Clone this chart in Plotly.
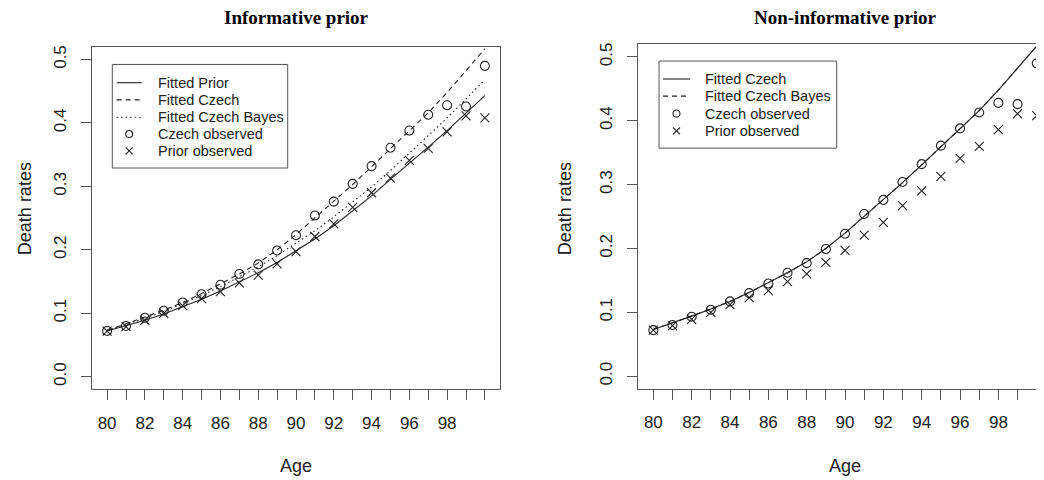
import plotly.graph_objects as go

# ---------------- data ----------------
ages = list(range(80, 101))
czech_observed = [0.072, 0.080, 0.093, 0.104, 0.117, 0.130, 0.145, 0.162, 0.177, 0.199, 0.223,
                  0.254, 0.276, 0.304, 0.332, 0.361, 0.388, 0.413, 0.428, 0.426, 0.490]
prior_observed = [0.072, 0.079, 0.089, 0.100, 0.112, 0.123, 0.134, 0.148, 0.160, 0.178, 0.197,
                  0.221, 0.241, 0.267, 0.290, 0.313, 0.341, 0.360, 0.386, 0.411, 0.408]
fitted_prior = [0.072, 0.080, 0.089, 0.099, 0.110, 0.122, 0.135, 0.149, 0.164, 0.180, 0.198,
                0.217, 0.238, 0.261, 0.285, 0.311, 0.336, 0.362, 0.388, 0.415, 0.443]
fitted_czech = [0.073, 0.083, 0.094, 0.105, 0.117, 0.131, 0.146, 0.162, 0.179, 0.200, 0.224,
                0.250, 0.276, 0.303, 0.331, 0.359, 0.387, 0.416, 0.448, 0.482, 0.517]
fitted_czech_bayes_inf = [0.073, 0.082, 0.092, 0.103, 0.115, 0.128, 0.142, 0.157, 0.173, 0.191, 0.210,
                          0.230, 0.252, 0.275, 0.299, 0.325, 0.352, 0.380, 0.408, 0.438, 0.468]
fitted_czech_bayes_noninf = [0.073, 0.083, 0.094, 0.105, 0.117, 0.131, 0.146, 0.162, 0.179, 0.200, 0.224,
                             0.250, 0.276, 0.303, 0.331, 0.359, 0.387, 0.416, 0.448, 0.482, 0.517]

x_tickvals = list(range(80, 101))
x_ticktext = [str(a) if (a % 2 == 0 and a < 100) else "" for a in x_tickvals]
y_tickvals = [0.0, 0.1, 0.2, 0.3, 0.4, 0.5]
y_ticktext = ["0.0", "0.1", "0.2", "0.3", "0.4", "0.5"]

titles = ["Informative prior", "Non-informative prior"]
legend_left = ["Fitted Prior", "Fitted Czech", "Fitted Czech Bayes", "Czech observed", "Prior observed"]
legend_right = ["Fitted Czech", "Fitted Czech Bayes", "Czech observed", "Prior observed"]

# ---------------- styling ----------------
# the page body has an 8px margin, so the figure starts at (8, 8) in the window
OFF = 8
W, H = 1044 - OFF, 480 - OFF
INK = "#222222"
AX = "#555555"
SANS = "Liberation Sans, Arial, Helvetica, sans-serif"
SERIF = "Liberation Serif, Times New Roman, serif"
DASH = "5px,4px"
DOT = "1.5px,3px"


def px(x):
    return (x - OFF) / W


def py(y):
    return 1 - (y - OFF) / H


fig = go.Figure()


def line_trace(y, dash, xa, ya):
    fig.add_trace(go.Scatter(x=ages, y=y, mode="lines", xaxis=xa, yaxis=ya,
                             line=dict(color=INK, width=1.1, dash=dash),
                             showlegend=False, hoverinfo="skip"))


def pts_trace(y, symbol, size, xa, ya):
    fig.add_trace(go.Scatter(x=ages, y=y, mode="markers", xaxis=xa, yaxis=ya,
                             marker=dict(symbol=symbol, size=size, color=INK,
                                         line=dict(color=INK, width=1.1)),
                             showlegend=False, hoverinfo="skip"))


# left panel
line_trace(fitted_prior, "solid", "x", "y")
line_trace(fitted_czech, DASH, "x", "y")
line_trace(fitted_czech_bayes_inf, DOT, "x", "y")
pts_trace(czech_observed, "circle-open", 9, "x", "y")
pts_trace(prior_observed, "x-thin-open", 9, "x", "y")

# right panel
line_trace(fitted_czech, "solid", "x2", "y2")
line_trace(fitted_czech_bayes_noninf, DASH, "x2", "y2")
pts_trace(czech_observed, "circle-open", 9, "x2", "y2")
pts_trace(prior_observed, "x-thin-open", 9, "x2", "y2")

common_x = dict(tickvals=x_tickvals, ticktext=x_ticktext, ticks="outside", ticklen=10,
                tickcolor=AX, tickwidth=1, showline=True, linecolor=AX, linewidth=1,
                showgrid=False, zeroline=False, tickfont=dict(family=SANS, size=17, color=INK),
                ticklabelstandoff=8)
common_y = dict(tickvals=y_tickvals, ticktext=y_ticktext, ticks="outside", ticklen=10,
                tickcolor=AX, tickwidth=1, showline=True, linecolor=AX, linewidth=1,
                showgrid=False, zeroline=False, tickangle=-90,
                tickfont=dict(family=SANS, size=17, color=INK), ticklabelstandoff=8)

fig.update_layout(
    width=W, height=H, margin=dict(l=0, r=0, t=0, b=0),
    paper_bgcolor="white", plot_bgcolor="white", showlegend=False,
    xaxis=dict(domain=[px(92), px(500)], range=[79.2, 100.8], anchor="y", mirror=True, **common_x),
    yaxis=dict(domain=[py(389), py(45)], range=[-0.02, 0.52], anchor="x", mirror=True, **common_y),
    xaxis2=dict(domain=[px(638), 1.0], range=[79.2, 100.38], anchor="y2", mirror=True, **common_x),
    yaxis2=dict(domain=[py(388.5), py(42.3)], range=[-0.02, 0.52], anchor="x2", mirror=False, **common_y),
)

ann = []
shapes = []
# titles
ann.append(dict(text="<b>" + titles[0] + "</b>", x=px(296), y=py(16), xref="paper", yref="paper",
                showarrow=False, font=dict(family=SERIF, size=19, color="black"), xanchor="center", yanchor="middle"))
ann.append(dict(text="<b>" + titles[1] + "</b>", x=px(845), y=py(16), xref="paper", yref="paper",
                showarrow=False, font=dict(family=SERIF, size=19, color="black"), xanchor="center", yanchor="middle"))
# axis titles
for cx in (296, 845):
    ann.append(dict(text="Age", x=px(cx), y=py(466), xref="paper", yref="paper", showarrow=False,
                    font=dict(family=SANS, size=18, color=INK), xanchor="center", yanchor="middle"))
for cx in (25, 565):
    ann.append(dict(text="Death rates", x=px(cx), y=py(208), xref="paper", yref="paper", showarrow=False,
                    textangle=-90, font=dict(family=SANS, size=18, color=INK), xanchor="center", yanchor="middle"))


def legend(box, rows, sx0, sx1, tx, labels, kinds):
    x0, y0, x1, y1 = box
    shapes.append(dict(type="rect", xref="paper", yref="paper", x0=px(x0), x1=px(x1), y0=py(y1), y1=py(y0),
                       line=dict(color=AX, width=1), fillcolor="rgba(0,0,0,0)"))
    for ry, lab, kind in zip(rows, labels, kinds):
        if kind in ("solid", "dash", "dot"):
            d = {"solid": "solid", "dash": DASH, "dot": DOT}[kind]
            shapes.append(dict(type="line", xref="paper", yref="paper", x0=px(sx0), x1=px(sx1),
                               y0=py(ry), y1=py(ry), line=dict(color=INK, width=1.1, dash=d)))
        elif kind == "circle":
            c = (sx0 + sx1) / 2
            r = 3.5
            shapes.append(dict(type="circle", xref="paper", yref="paper", x0=px(c - r), x1=px(c + r),
                               y0=py(ry + r), y1=py(ry - r), line=dict(color=INK, width=1.1)))
        elif kind == "cross":
            c = (sx0 + sx1) / 2
            r = 3.5
            shapes.append(dict(type="line", xref="paper", yref="paper", x0=px(c - r), x1=px(c + r),
                               y0=py(ry - r), y1=py(ry + r), line=dict(color=INK, width=1.1)))
            shapes.append(dict(type="line", xref="paper", yref="paper", x0=px(c - r), x1=px(c + r),
                               y0=py(ry + r), y1=py(ry - r), line=dict(color=INK, width=1.1)))
        ann.append(dict(text=lab, x=px(tx), y=py(ry), xref="paper", yref="paper", showarrow=False,
                        font=dict(family=SANS, size=14.5, color=INK), xanchor="left", yanchor="middle"))


legend((112.3, 62.7, 287.7, 166.7), [81, 98.3, 115.7, 132.5, 149.5], 116.7, 141.7, 156,
       legend_left, ["solid", "dash", "dot", "circle", "cross"])
legend((659, 59.3, 836.7, 146.7), [77.3, 94.5, 112, 129.5], 663, 690, 703,
       legend_right, ["solid", "dash", "circle", "cross"])

fig.update_layout(annotations=ann, shapes=shapes)
fig.write_html("out.html")
